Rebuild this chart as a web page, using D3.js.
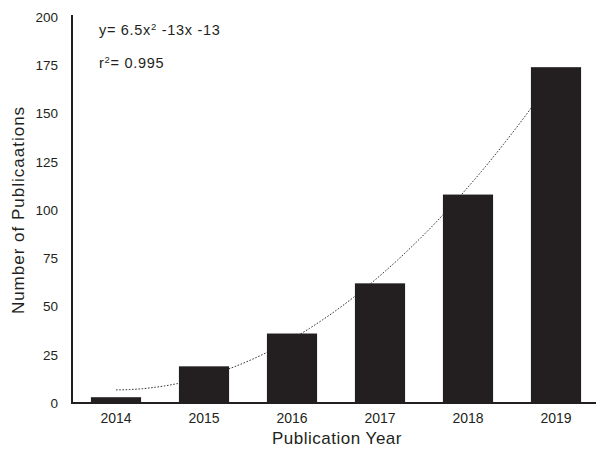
<!DOCTYPE html>
<html><head><meta charset="utf-8">
<script src="https://cdn.jsdelivr.net/npm/d3@7"></script>
<style>body{margin:0;background:#fff}svg{display:block}text{font-family:"Liberation Sans",Arial,sans-serif;fill:#231f20}</style>
</head><body>
<script>
const years = ["2014","2015","2016","2017","2018","2019"];
const counts = [3, 19, 36, 62, 108, 174];
const yTicks = [0, 25, 50, 75, 100, 125, 150, 175, 200];
const equationText = ["y= 6.5x", "2", " -13x -13"];
const r2Text = ["r", "2", "= 0.995"];

const W = 596, H = 454;
const svg = d3.select("body").append("svg").attr("width", W).attr("height", H);
const x = d3.scaleBand().domain(years).range([72, 600]).paddingInner(0.43).paddingOuter(0.215);
const y = d3.scaleLinear().domain([0, 200]).range([403, 17]);

// quadratic least-squares trend from the data (x = 1..n)
const n = counts.length;
const xs = counts.map((_, i) => i + 1);
function fitQuad(X, Y) {
  let s = [0,0,0,0,0], t = [0,0,0];
  X.forEach((xi, i) => { for (let k=0;k<5;k++) s[k]+=Math.pow(xi,k); for (let k=0;k<3;k++) t[k]+=Y[i]*Math.pow(xi,k); });
  const A = [[s[0],s[1],s[2],t[0]],[s[1],s[2],s[3],t[1]],[s[2],s[3],s[4],t[2]]];
  for (let i=0;i<3;i++){ for (let j=i+1;j<3;j++){ const f=A[j][i]/A[i][i]; for(let k=i;k<4;k++) A[j][k]-=f*A[i][k]; } }
  const c=[0,0,0];
  for (let i=2;i>=0;i--){ let v=A[i][3]; for(let k=i+1;k<3;k++) v-=A[i][k]*c[k]; c[i]=v/A[i][i]; }
  return c;
}
const coef = fitQuad(xs, counts);
const xPos = d3.scaleLinear().domain([1, n]).range([x(years[0]) + x.bandwidth()/2, x(years[n-1]) + x.bandwidth()/2]);
const trendPts = d3.range(1, n + 0.001, 0.05).map(v => [xPos(v), y(coef[0] + coef[1]*v + coef[2]*v*v)]);
svg.append("path").attr("d", d3.line()(trendPts)).attr("fill", "none")
  .attr("stroke", "#333").attr("stroke-width", 1).attr("stroke-dasharray", "1.6,1.6");

svg.selectAll("rect.bar").data(counts).join("rect").attr("class","bar")
  .attr("x", (d,i) => x(years[i])).attr("width", x.bandwidth())
  .attr("y", d => y(d)).attr("height", d => y(0) - y(d)).attr("fill", "#231f20");

// axes
const yAxis = svg.append("g").attr("transform", "translate(72,0)")
  .call(d3.axisLeft(y).tickValues(yTicks).tickSize(0).tickPadding(14));
yAxis.select(".domain").remove();
yAxis.selectAll("text").attr("font-size", 13.5).style("font-family", '"Liberation Sans",Arial,sans-serif').attr("fill", "#231f20");
svg.append("line").attr("x1", 72).attr("x2", 72).attr("y1", 15).attr("y2", 404).attr("stroke", "#231f20").attr("stroke-width", 2);

const xAxis = svg.append("g").attr("transform", "translate(0,403)")
  .call(d3.axisBottom(x).tickSize(0).tickPadding(10));
xAxis.select(".domain").remove();
xAxis.selectAll("text").attr("font-size", 14).style("font-family", '"Liberation Sans",Arial,sans-serif').attr("fill", "#231f20");
svg.append("line").attr("x1", 71).attr("x2", 596).attr("y1", 403).attr("y2", 403).attr("stroke", "#231f20").attr("stroke-width", 2);

svg.append("text").attr("transform", "translate(24,210) rotate(-90)").attr("text-anchor", "middle")
  .attr("font-size", 17).attr("letter-spacing", 1).text("Number of Publicaations");
svg.append("text").attr("x", 337).attr("y", 444).attr("text-anchor", "middle")
  .attr("font-size", 17).attr("letter-spacing", 0.5).text("Publication Year");

function supText(parts, ty) {
  const t = svg.append("text").attr("x", 99).attr("y", ty).attr("font-size", 14.5).attr("letter-spacing", 0.7);
  t.append("tspan").text(parts[0]);
  t.append("tspan").attr("font-size", 9.5).attr("dy", -5).text(parts[1]);
  t.append("tspan").attr("dy", 5).text(parts[2]);
}
supText(equationText, 35);
supText(r2Text, 68);
</script>
</body></html>
